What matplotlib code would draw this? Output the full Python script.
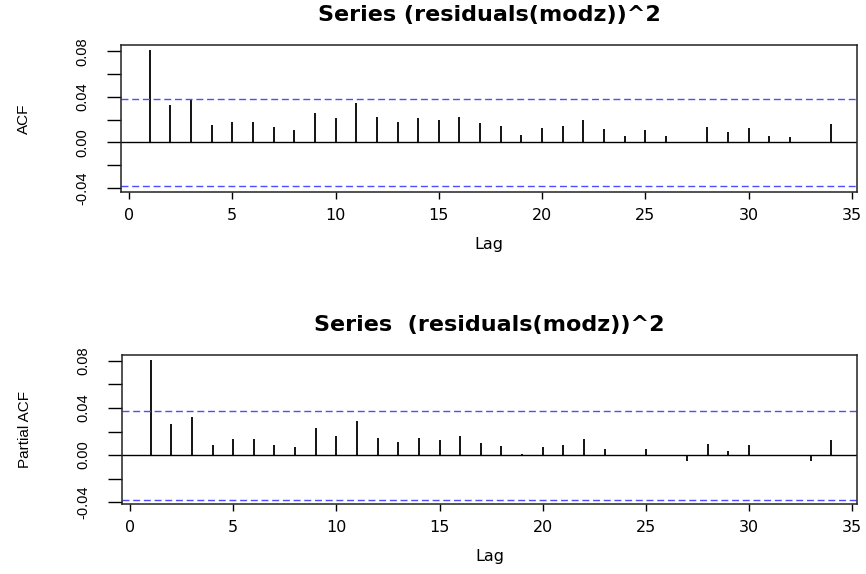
import numpy as np
import matplotlib.pyplot as plt

# lags 1..34, values
lags = np.arange(1, 35)

acf_vals = [0.0812, 0.0332, 0.0376, 0.0153, 0.0182, 0.0176, 0.0132, 0.0112,
            0.0262, 0.0218, 0.0347, 0.0226, 0.0182, 0.0212, 0.0197, 0.0226,
            0.0168, 0.0147, 0.0068, 0.0124, 0.0141, 0.0197, 0.0115, 0.0059,
            0.0106, 0.0053, -0.0008, 0.0132, 0.0088, 0.0124, 0.0053, 0.0047,
            -0.0008, 0.0159]

pacf_vals = [0.0803, 0.0265, 0.0327, 0.0085, 0.0135, 0.0135, 0.0085, 0.0070,
             0.0228, 0.0163, 0.0293, 0.0144, 0.0113, 0.0149, 0.0130, 0.0163,
             0.0101, 0.0079, 0.0011, 0.0073, 0.0082, 0.0138, 0.0048, 0.0004,
             0.0054, 0.0002, -0.0051, 0.0096, 0.0039, 0.0087, -0.0006, 0.0001,
             -0.0051, 0.0132]

conf = 0.0378  # approx 1.96/sqrt(n)

xticks = [0, 5, 10, 15, 20, 25, 30, 35]
yticks = [-0.04, -0.02, 0.00, 0.02, 0.04, 0.06, 0.08]
ylabels = ['-0.04', '', '0.00', '', '0.04', '', '0.08']

panels = [
    ('Series (residuals(modz))^2', 'ACF', acf_vals,
     [0.1397, 0.6655, 0.850, 0.2561], (-0.0435, 0.0856)),
    ('Series  (residuals(modz))^2', 'Partial ACF', pacf_vals,
     [0.1409, 0.1214, 0.849, 0.2606], (-0.0417, 0.0851)),
]

fig = plt.figure(figsize=(8.66, 5.74), dpi=100)

for title, ylab, vals, pos, ylim in panels:
    ax = fig.add_axes(pos)
    ax.vlines(lags, 0, vals, color='black', lw=1.3)
    ax.axhline(0, color='black', lw=1)
    for c in (conf, -conf):
        ax.axhline(c, color='#4d4dff', lw=1, dashes=(5, 2.7))
    ax.set_xlim(-0.39, 35.25)
    ax.set_ylim(*ylim)
    ax.set_xticks(xticks)
    ax.set_xticklabels([str(t) for t in xticks], fontsize=11.5)
    ax.set_yticks(yticks)
    ax.set_yticklabels(ylabels, rotation=90, va='center', fontsize=10.5,
                       family='Liberation Sans')
    ax.tick_params(axis='x', length=5, width=1, pad=6.5)
    ax.tick_params(axis='y', length=10, width=1, pad=13)
    for s in ax.spines.values():
        s.set_linewidth(1.1)
        s.set_color('#222222')
    ax.set_title(title, fontsize=16, fontweight='bold', pad=17)
    ax.set_xlabel('Lag', fontsize=11.5, labelpad=10)
    ax.set_ylabel(ylab, fontsize=11, family='Liberation Sans')
    ax.yaxis.set_label_coords(-0.122, 0.5)

fig.savefig('out.png', dpi=100)
